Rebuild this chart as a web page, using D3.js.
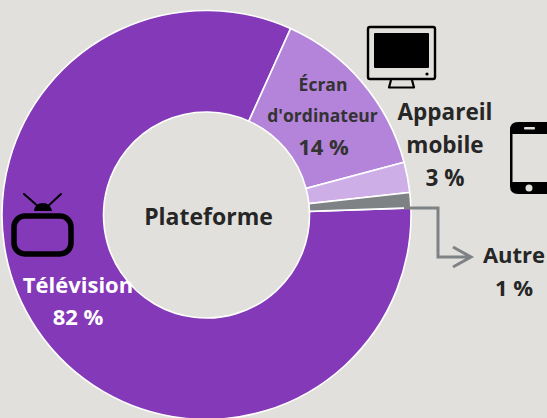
<!DOCTYPE html>
<html>
<head>
<meta charset="utf-8">
<script src="https://cdn.jsdelivr.net/npm/d3@7"></script>
<style>
html, body { margin: 0; padding: 0; background: #e1e0dc; overflow: hidden; }
text { font-family: "Open Sans", Lato, sans-serif; font-weight: 700; text-anchor: middle; }
</style>
</head>
<body>
<script>
var categories = ["Télévision", "Écran d'ordinateur", "Appareil mobile", "Autre"];
// slice shares, printed labels are the rounded ones
var values = [82.3, 14.1, 2.4, 1.2];
var valueLabels = ["82 %", "14 %", "3 %", "1 %"];
var colors = ["#8439b8", "#b384da", "#ceaee6", "#7f8285"];
var centerLabel = "Plateforme";

var w = 547, h = 418;
var cx = 206.5, cy = 215, outer = 204.5, inner = 103;
var dark = "#262626";

var svg = d3.select("body").append("svg")
            .attr("width", w)
            .attr("height", h)
            .style("display", "block");

// first slice starts just above 3 o'clock, slices run clockwise
var startA = 88 * Math.PI / 180;
var pie = d3.pie().sort(null).startAngle(startA).endAngle(startA + 2 * Math.PI);
var arc = d3.arc().outerRadius(outer).innerRadius(inner);

var g = svg.append("g").attr("transform", "translate(" + cx + "," + cy + ")");
g.selectAll("path")
 .data(pie(values))
 .enter()
 .append("path")
 .attr("d", arc)
 .attr("fill", function(d, i) { return colors[i]; })
 .attr("stroke", "#ffffff")
 .attr("stroke-width", 1.6);

svg.append("text").attr("x", 208.5).attr("y", 225)
   .attr("font-size", 23).attr("fill", dark).text(centerLabel);

function label(lines, x, y, size, lh, fill) {
  lines.forEach(function(s, i) {
    svg.append("text").attr("x", x).attr("y", y + i * lh)
       .attr("font-size", size).attr("fill", fill).text(s);
  });
}
label(["Télévision", valueLabels[0]], 78, 293, 22, 32, "#ffffff");
label(["Écran"], 323, 91, 17.5, 0, "#333333");
label(["d'ordinateur"], 322.5, 122, 17.5, 0, "#333333");
label([valueLabels[1]], 323.5, 155, 22, 0, "#333333");
label(["Appareil", "mobile", valueLabels[2]], 445, 120, 22.5, 33, dark);
label(["Autre", valueLabels[3]], 514, 263, 22, 33, dark);

// leader line for Autre
svg.append("path")
   .attr("d", "M404,208H438V257H471M453,247L471,257L453,267")
   .attr("fill", "none").attr("stroke", "#7f8285").attr("stroke-width", 3);

// monitor icon
var mon = svg.append("g");
mon.append("rect").attr("x", 368).attr("y", 27).attr("width", 67).attr("height", 52).attr("rx", 2)
   .attr("fill", "none").attr("stroke", "#000").attr("stroke-width", 2.4);
mon.append("rect").attr("x", 374).attr("y", 33).attr("width", 55).attr("height", 35).attr("rx", 1).attr("fill", "#000");
mon.append("circle").attr("cx", 427).attr("cy", 74).attr("r", 1.6).attr("fill", "#000");
mon.append("path").attr("d", "M391,80L389,87.5H414L412,80").attr("fill", "none")
   .attr("stroke", "#000").attr("stroke-width", 2.2).attr("stroke-linejoin", "round");

// phone icon
var ph = svg.append("g");
ph.append("path").attr("d", "M547,122H518Q510,122 510,130V186Q510,194 518,194H547Z").attr("fill", "#000");
ph.append("rect").attr("x", 512.5).attr("y", 134).attr("width", 34.5).attr("height", 48).attr("fill", "#e1e0dc");
ph.append("rect").attr("x", 524).attr("y", 127).attr("width", 11).attr("height", 2.4).attr("rx", 1).attr("fill", "#e1e0dc");
ph.append("circle").attr("cx", 529).attr("cy", 188).attr("r", 3.5).attr("fill", "#e1e0dc");

// tv icon
var tv = svg.append("g");
tv.append("rect").attr("x", 14).attr("y", 216).attr("width", 57).attr("height", 38).attr("rx", 11)
  .attr("fill", "none").attr("stroke", "#000").attr("stroke-width", 5.5);
tv.append("path").attr("d", "M34,211Q35,203 43,203Q50,203 52,211Z").attr("fill", "#000");
tv.append("path").attr("d", "M24,194L40,208M61,194L46,208")
  .attr("fill", "none").attr("stroke", "#000").attr("stroke-width", 2).attr("stroke-linecap", "round");
</script>
</body>
</html>
